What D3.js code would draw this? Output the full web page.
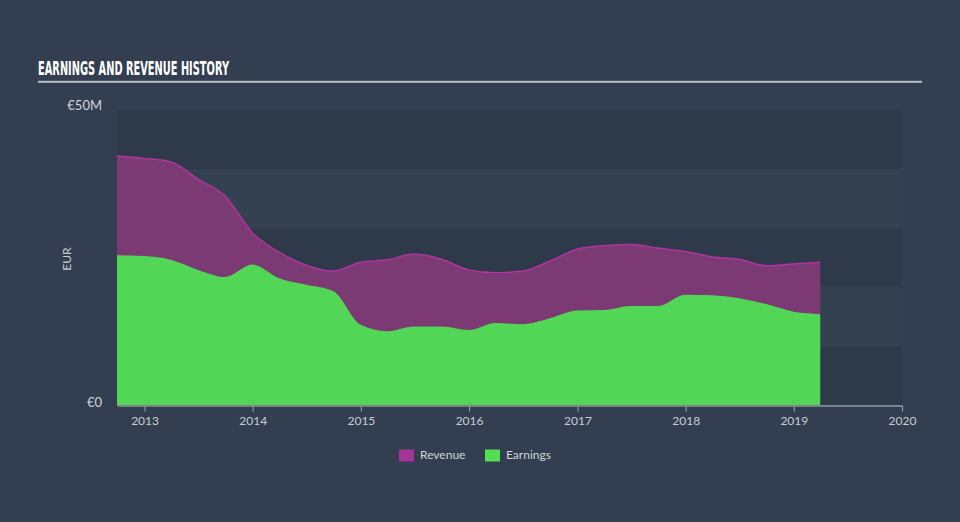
<!DOCTYPE html>
<html>
<head>
<meta charset="utf-8">
<script src="https://cdn.jsdelivr.net/npm/d3@7"></script>
<style>
  html, body { margin: 0; padding: 0; background: #333f50; }
  svg { display: block; }
</style>
</head>
<body>
<svg id="chart" width="960" height="522"></svg>
<script>
// ---- data ----
const dates = [
  "2012-09-30","2012-12-31","2013-03-31","2013-06-30","2013-09-30","2013-12-31",
  "2014-03-31","2014-06-30","2014-09-30","2014-12-31","2015-03-31","2015-06-30",
  "2015-09-30","2015-12-31","2016-03-31","2016-06-30","2016-09-30","2016-12-31",
  "2017-03-31","2017-06-30","2017-09-30","2017-12-31","2018-03-31","2018-06-30",
  "2018-09-30","2018-12-31","2019-03-31"
];
const revenue = [
  42.2, 41.8, 41.2, 38.3, 35.4, 29.2,
  25.9, 23.7, 22.7, 24.2, 24.6, 25.6,
  24.7, 22.9, 22.4, 22.7, 24.4, 26.4,
  27.0, 27.2, 26.6, 26.0, 25.1, 24.7,
  23.6, 23.9, 24.2
];
const earnings = [
  25.4, 25.25, 24.6, 22.9, 21.7, 23.8,
  21.5, 20.4, 19.3, 13.6, 12.5, 13.3,
  13.3, 12.7, 13.9, 13.7, 14.7, 16.0,
  16.1, 16.8, 16.8, 18.7, 18.6, 18.1,
  17.1, 15.8, 15.4
];
const yTickValues = [0, 50];
const yTickLabels = ["€0", "€50M"];
const xTickYears = [2013, 2014, 2015, 2016, 2017, 2018, 2019, 2020];
const legendItems = ["Revenue", "Earnings"];

// ---- layout ----
const svg = d3.select("#chart");
const W = 960, H = 522;
const plot = { left: 117, right: 902, top: 110, bottom: 405 };

const parse = d3.timeParse("%Y-%m-%d");
const rows = dates.map((d, i) => ({ date: parse(d), rev: revenue[i], earn: earnings[i] }));

const x = d3.scaleTime()
  .domain([parse("2012-09-30"), new Date(2020, 0, 1)])
  .range([plot.left, plot.right]);
const y = d3.scaleLinear().domain([0, 50]).range([plot.bottom, plot.top]);

svg.append("rect").attr("width", W).attr("height", H).attr("fill", "#333f50");

// bands
for (let i = 0; i < 5; i++) {
  const top = y(50 - i * 10), bot = y(40 - i * 10);
  svg.append("rect")
    .attr("x", plot.left).attr("y", top)
    .attr("width", plot.right - plot.left).attr("height", bot - top)
    .attr("fill", i % 2 === 0 ? "#2e3a4a" : "#344150");
}

// title
svg.append("text")
  .attr("x", 38).attr("y", 74.5)
  .attr("font-family", "'Liberation Sans Narrow', 'DejaVu Sans Condensed', sans-serif")
  .attr("font-weight", "bold")
  .attr("font-size", 19)
  .attr("fill", "#ffffff")
  .attr("textLength", 191).attr("lengthAdjust", "spacingAndGlyphs")
  .text("EARNINGS AND REVENUE HISTORY");
svg.append("rect").attr("x", 38).attr("y", 80.8).attr("width", 884).attr("height", 2).attr("fill", "#b9bdc4");

// areas
const curve = d3.curveMonotoneX;
const revArea = d3.area().x(d => x(d.date)).y0(y(0)).y1(d => y(d.rev)).curve(curve);
const revLine = d3.line().x(d => x(d.date)).y(d => y(d.rev)).curve(curve);
const earnArea = d3.area().x(d => x(d.date)).y0(y(0)).y1(d => y(d.earn)).curve(curve);

svg.append("path").datum(rows).attr("d", revArea).attr("fill", "#7b3a74");
svg.append("path").datum(rows).attr("d", revLine).attr("fill", "none").attr("stroke", "#b0339f").attr("stroke-width", 1.5);
svg.append("path").datum(rows).attr("d", earnArea).attr("fill", "#51d755");

// x axis
const xAxis = d3.axisBottom(x)
  .tickValues(xTickYears.map(yr => new Date(yr, 0, 1)))
  .tickFormat(d3.timeFormat("%Y"))
  .tickSize(6).tickSizeOuter(0);
const gx = svg.append("g").attr("transform", `translate(0,${plot.bottom + 0.5})`).call(xAxis);
gx.select(".domain").attr("stroke", "#c3c8d0").attr("stroke-width", 1.2);
gx.selectAll(".tick line").attr("stroke", "#8f98a6").attr("stroke-width", 1.2);
gx.selectAll(".tick text")
  .attr("fill", "#c8ccd2").attr("font-size", 12)
  .attr("font-family", "Lato, 'Open Sans', sans-serif")
  .attr("dy", "0.85em");

// y labels
const gy = svg.append("g");
yTickValues.forEach((v, i) => {
  gy.append("text")
    .attr("x", 102).attr("y", y(v) + (v === 0 ? -1 : -3))
    .attr("text-anchor", "end").attr("dominant-baseline", "middle")
    .attr("fill", "#d0d4d9").attr("font-size", 13)
    .attr("font-family", "Lato, 'Open Sans', sans-serif")
    .text(yTickLabels[i]);
});
svg.append("text")
  .attr("transform", "translate(68,259) rotate(-90)")
  .attr("text-anchor", "middle").attr("dominant-baseline", "middle")
  .attr("fill", "#c8ccd2").attr("font-size", 12)
  .attr("font-family", "Lato, 'Open Sans', sans-serif")
  .text("EUR");

// legend
const legendColors = ["#a43597", "#52e052"];
const legendX = [399, 485];
legendItems.forEach((name, i) => {
  svg.append("rect").attr("x", legendX[i]).attr("y", 449.5)
    .attr("width", 15).attr("height", 12).attr("fill", legendColors[i]);
  svg.append("text").attr("x", legendX[i] + 21).attr("y", 456)
    .attr("dominant-baseline", "middle")
    .attr("fill", "#d0d4d9").attr("font-size", 12)
    .attr("font-family", "Lato, 'Open Sans', sans-serif")
    .text(name);
});
</script>
</body>
</html>
